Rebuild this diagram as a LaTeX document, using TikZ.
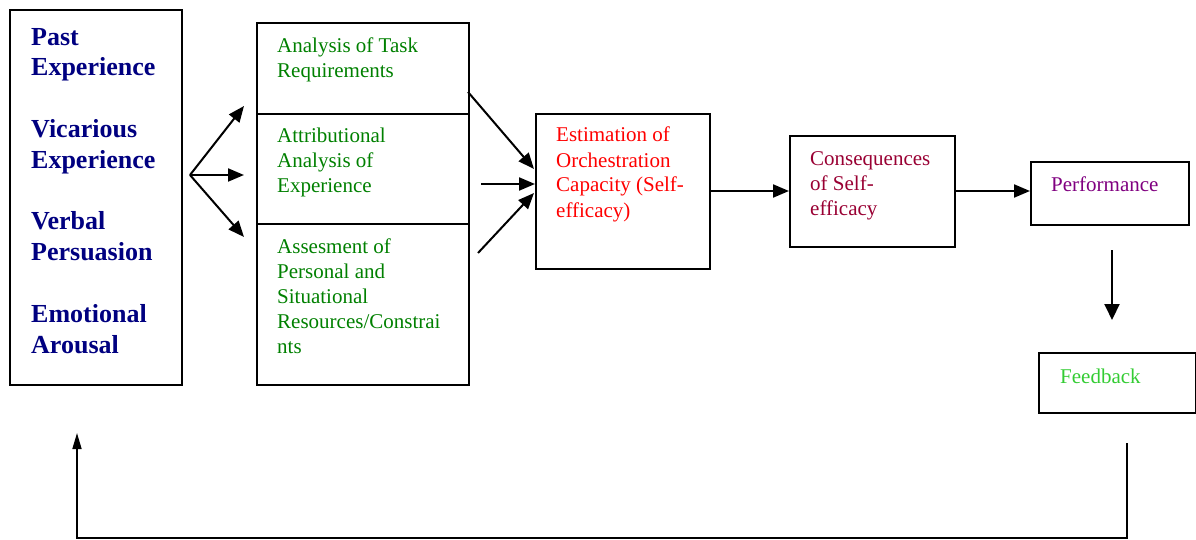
\documentclass[tikz,border=0pt]{standalone}
\usepackage{fontspec}
\setmainfont{Liberation Serif}
\usetikzlibrary{arrows.meta}
\definecolor{navy}{RGB}{0,0,128}
\definecolor{dkgreen}{RGB}{0,128,0}
\definecolor{maroonc}{RGB}{153,0,51}
\definecolor{purplec}{RGB}{128,0,128}
\definecolor{fbgreen}{RGB}{51,204,51}
\begin{document}
\begin{tikzpicture}[x=1pt,y=-1pt,
  box/.style={draw=black,line width=2pt,anchor=north west,inner sep=0pt},
  txt/.style={anchor=base west,inner sep=0pt,align=left,font=\fontsize{21}{25}\selectfont},
  bigtxt/.style={anchor=base west,inner sep=0pt,align=left,text=navy,font=\fontsize{26}{30.8}\selectfont\bfseries},
  arr/.style={line width=2pt,-{Triangle[length=16pt,width=13pt]}}
]
\useasboundingbox (0,0) rectangle (1196,540);
% boxes
\node[box,minimum width=172pt,minimum height=375pt] (src) at (9,9) {};
\node[box,minimum width=212pt,minimum height=91pt] (task) at (256,22) {};
\node[box,minimum width=212pt,minimum height=110pt] (attr) at (256,113) {};
\node[box,minimum width=212pt,minimum height=161pt] (assess) at (256,223) {};
\node[box,minimum width=174pt,minimum height=155pt] (est) at (535,113) {};
\node[box,minimum width=165pt,minimum height=111pt] (cons) at (789,135) {};
\node[box,minimum width=158pt,minimum height=63pt] (perf) at (1030,161) {};
\node[box,minimum width=157pt,minimum height=60pt] (fb) at (1038,352) {};
% texts (base anchor = baseline of last line)
\node[bigtxt] (srctxt) at (31,353) {Past\\Experience\\[30.8pt]Vicarious\\Experience\\[30.8pt]Verbal\\Persuasion\\[30.8pt]Emotional\\Arousal};
\node[txt,text=dkgreen] (tasktxt) at (277,78) {Analysis of Task\\Requirements};
\node[txt,text=dkgreen] (attrtxt) at (277,193) {Attributional\\Analysis of\\Experience};
\node[txt,text=dkgreen] (assesstxt) at (277,353) {Assesment of\\Personal and\\Situational\\Resources/Constrai\\nts};
\node[txt,text=red] (esttxt) at (556,217) {Estimation of\\Orchestration\\Capacity (Self-\\efficacy)};
\node[txt,text=maroonc] (constxt) at (810,215) {Consequences\\of Self-\\efficacy};
\node[txt,text=purplec] (perftxt) at (1051,192) {Performance};
\node[txt,text=fbgreen] (fbtxt) at (1060,383) {Feedback};
% fork
\coordinate (fork) at (190,175);
\coordinate (f1) at (244,106);
\coordinate (f2) at (244,175);
\coordinate (f3) at (244,237);
\draw[arr] (fork) -- (f1);
\draw[arr] (fork) -- (f2);
\draw[arr] (fork) -- (f3);
% into estimation
\coordinate (s1) at (468,92);
\coordinate (e1) at (534,169);
\coordinate (s2) at (481,184);
\coordinate (e2) at (535,184);
\coordinate (s3) at (478,253);
\coordinate (e3) at (534,193);
\draw[arr] (s1) -- (e1);
\draw[arr] (s2) -- (e2);
\draw[arr] (s3) -- (e3);
% chain
\draw[arr] (est.east |- 0,191) -- (cons.west |- 0,191);
\draw[arr] (cons.east |- 0,191) -- (perf.west |- 0,191);
\coordinate (p1) at (1112,250);
\coordinate (p2) at (1112,320);
\draw[line width=2pt,-{Triangle[length=16pt,width=15pt]}] (p1) -- (p2);
% feedback loop
\coordinate (l1) at (1127,443);
\coordinate (l2) at (77,433);
\draw[line width=1.6pt,-{Triangle[length=16pt,width=9pt]}] (l1) -- (1127,538) -- (77,538) -- (l2);
\end{tikzpicture}
\end{document}
